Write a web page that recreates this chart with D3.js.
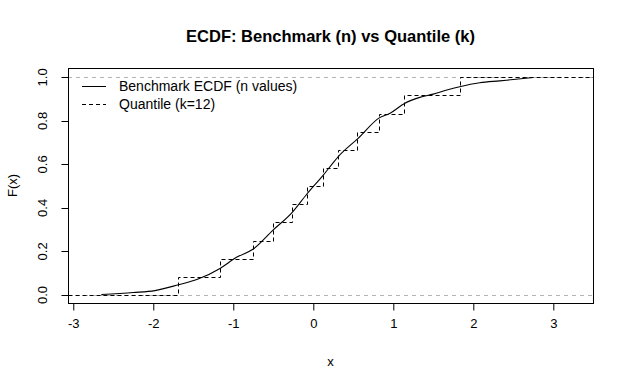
<!DOCTYPE html>
<html>
<head>
<meta charset="utf-8">
<script src="https://cdn.jsdelivr.net/npm/d3@7"></script>
<style>
  body { margin: 0; background: #fff; }
  svg { display: block; font-family: Arial, "Liberation Sans", sans-serif; }
</style>
</head>
<body>
<svg></svg>
<script>
const width = 629;
const height = 389;
const box = { left: 68, right: 593, top: 68, bottom: 303 };

// ticks
const xTicks = [-3, -2, -1, 0, 1, 2, 3];
const yTicks = [0, 0.2, 0.4, 0.6, 0.8, 1.0];

// benchmark ECDF
const benchX = [-2.65, -2.25, -1.98, -1.685, -1.44, -1.166, -0.96, -0.75, -0.5, -0.26,
    -0.08, 0.125, 0.31, 0.56, 0.83, 0.96, 1.14, 1.33, 1.5, 1.67, 1.83, 2.08, 2.33, 2.5, 2.75];
const benchF = [0.002, 0.011, 0.020, 0.047, 0.073, 0.122, 0.173, 0.211, 0.299, 0.381,
    0.464, 0.551, 0.635, 0.720, 0.815, 0.835, 0.880, 0.908, 0.923, 0.942, 0.957, 0.975, 0.984, 0.990, 0.999];

// quantile step function, k = 12
const quantX = [-1.688, -1.166, -0.75, -0.5, -0.26, -0.075, 0.125, 0.3125, 0.55, 0.821, 1.1375, 1.834];
const quantF = [1/12, 2/12, 3/12, 4/12, 5/12, 6/12, 7/12, 8/12, 9/12, 10/12, 11/12, 12/12];

const legendLabels = ["Benchmark ECDF (n values)", "Quantile (k=12)"];

let svg = d3.select("svg")
    .attr("width", width)
    .attr("height", height);

let scaleX = d3.scaleLinear()
    .domain([-3.066, 3.496])
    .range([box.left, box.right]);

let scaleY = d3.scaleLinear()
    .domain([-0.037, 1.043])
    .range([box.bottom, box.top]);

// grey reference lines at 0 and 1
svg.selectAll(".ref")
    .data([0, 1])
    .enter()
    .append("line")
    .attr("x1", box.left)
    .attr("x2", box.right)
    .attr("y1", d => Math.round(scaleY(d)) + 0.5)
    .attr("y2", d => Math.round(scaleY(d)) + 0.5)
    .style("stroke", "#b3b3b3")
    .style("stroke-dasharray", "4,4");

// quantile step function (dashed)
let [xMin, xMax] = scaleX.domain();
let stepPts = [[xMin, 0]].concat(quantX.map((d, i) => [d, quantF[i]]), [[xMax, 1]]);
let stepLine = d3.line()
    .x(d => Math.round(scaleX(d[0])) + 0.5)
    .y(d => Math.round(scaleY(d[1])) + 0.5)
    .curve(d3.curveStepAfter);
svg.append("path")
    .attr("d", stepLine(stepPts))
    .style("fill", "none")
    .style("stroke", "#000")
    .style("stroke-dasharray", "4,3");

// benchmark ECDF (solid)
let benchLine = d3.line()
    .x((d, i) => scaleX(benchX[i]))
    .y(d => scaleY(d))
    .curve(d3.curveMonotoneX);
svg.append("path")
    .attr("d", benchLine(benchF))
    .style("fill", "none")
    .style("stroke", "#000")
    .style("stroke-width", 1.1);

// box
svg.append("rect")
    .attr("x", box.left + 0.5)
    .attr("y", box.top + 0.5)
    .attr("width", box.right - box.left)
    .attr("height", box.bottom - box.top)
    .style("fill", "none")
    .style("stroke", "#000");

// x axis
let axisX = svg.append("g")
    .attr("transform", `translate(0, ${box.bottom + 0.5})`)
    .call(d3.axisBottom(scaleX).tickValues(xTicks).tickSize(7).tickSizeOuter(0).tickFormat(d3.format("d")));
axisX.select(".domain").remove();
axisX.selectAll("text")
    .attr("y", 24)
    .attr("dy", 0)
    .style("font-size", "13px")
    .style("font-family", "Arial, 'Liberation Sans', sans-serif")
    .text(d => d < 0 ? "-" + Math.abs(d) : d);

// y axis
let axisY = svg.append("g")
    .attr("transform", `translate(${box.left + 0.5}, 0)`)
    .call(d3.axisLeft(scaleY).tickValues(yTicks).tickSize(7).tickFormat(d3.format(".1f")));
axisY.select(".domain").remove();
axisY.selectAll(".tick").attr("transform", null);
axisY.selectAll("text")
    .attr("x", null)
    .attr("y", null)
    .attr("dy", 0)
    .attr("text-anchor", "middle")
    .attr("transform", d => `translate(${46 - box.left}, ${scaleY(d)}) rotate(-90)`)
    .style("font-size", "13px")
    .style("font-family", "Arial, 'Liberation Sans', sans-serif");
axisY.selectAll(".tick line")
    .attr("x2", -7)
    .attr("y1", d => Math.round(scaleY(d)) + 0.5)
    .attr("y2", d => Math.round(scaleY(d)) + 0.5);

// axis titles
svg.append("text")
    .attr("x", (box.left + box.right) / 2)
    .attr("y", 366)
    .attr("text-anchor", "middle")
    .style("font-size", "13px")
    .text("x");

svg.append("text")
    .attr("transform", `translate(17, ${(box.top + box.bottom) / 2}) rotate(-90)`)
    .attr("text-anchor", "middle")
    .style("font-size", "13px")
    .text("F(x)");

// title
svg.append("text")
    .attr("x", (box.left + box.right) / 2)
    .attr("y", 42)
    .attr("text-anchor", "middle")
    .style("font-size", "16.5px")
    .style("font-weight", "bold")
    .text("ECDF: Benchmark (n) vs Quantile (k)");

// legend
let legend = svg.append("g");
legendLabels.forEach((label, i) => {
    let y = 86 + i * 17.5;
    legend.append("line")
        .attr("x1", 82)
        .attr("x2", 106)
        .attr("y1", Math.round(y) + 0.5)
        .attr("y2", Math.round(y) + 0.5)
        .style("stroke", "#000")
        .style("stroke-dasharray", i === 1 ? "4,3" : null);
    legend.append("text")
        .attr("x", 119)
        .attr("y", y + 5)
        .style("font-size", "14px")
        .text(label);
});
</script>
</body>
</html>
